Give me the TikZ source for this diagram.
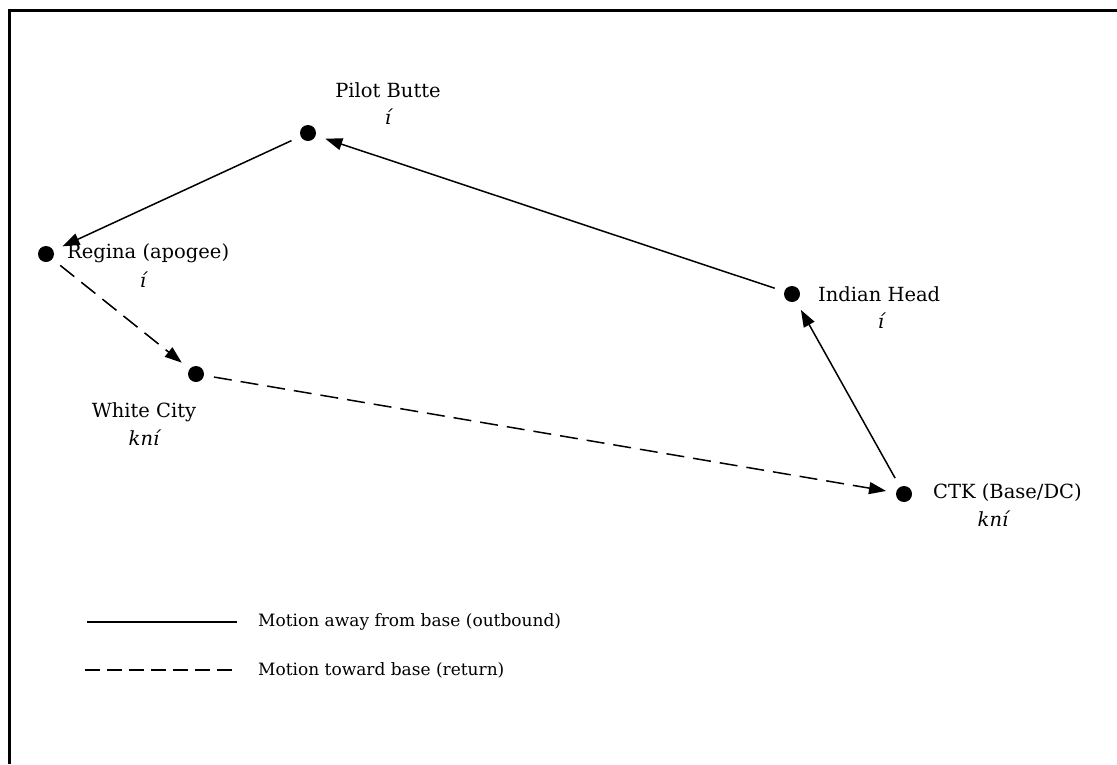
\documentclass[tikz,border=0pt]{standalone}
\usepackage{fontspec}
\setmainfont{DejaVu Serif}
\usetikzlibrary{arrows.meta}
\begin{document}
\begin{tikzpicture}[x=1pt,y=-1pt,
  stop/.style={circle,fill=black,inner sep=0pt,minimum size=16pt},
  lbl/.style={inner sep=0pt,font=\fontsize{19.5}{22}\selectfont},
  sub/.style={inner sep=0pt,font=\fontsize{19.5}{22}\selectfont\itshape},
  keytext/.style={inner sep=0pt,font=\fontsize{17}{20}\selectfont},
  route/.style={line width=1.5pt,-{Triangle[length=17pt,width=12pt]},shorten <=10pt,shorten >=10pt},
  outbound/.style={route},
  inbound/.style={route,dash pattern=on 18pt off 9pt},
  legendline/.style={line width=1.5pt}]
\useasboundingbox (0,0) rectangle (1117,764);
% frame (top and left edges)
\draw[line width=3pt] (9.5,764) -- (9.5,10.5) -- (1117,10.5);

% stops
\node[stop] (pb) at (308,133) {};
\node[stop] (rg) at (46,254) {};
\node[stop] (wc) at (196,374) {};
\node[stop] (ih) at (792,294) {};
\node[stop] (ctk) at (904,494) {};

% names and codes
\node[lbl] (pbn) at (388,90) {Pilot Butte};
\node[sub] (pbc) at (388,117) {í};
\node[lbl,anchor=west] (rgn) at (67,253) {Regina (apogee)};
\node[sub] (rgc) at (143,280) {í};
\node[lbl] (wcn) at (144,412) {White City};
\node[sub] (wcc) at (144,438) {kní};
\node[lbl,anchor=west] (ihn) at (818,294) {Indian Head};
\node[sub] (ihc) at (881,321) {í};
\node[lbl,anchor=west] (ctkn) at (933,493) {CTK (Base/DC)};
\node[sub] (ctkc) at (993,519) {kní};

% route
\draw[outbound] (ctk) -- (ih);
\draw[outbound] (ih) -- (pb);
\draw[outbound] (pb) -- (rg);
\draw[inbound] (rg) -- (wc);
\draw[inbound] (wc) -- (ctk);

% legend
\coordinate (l1a) at (87,622);
\coordinate (l1b) at (237,622);
\coordinate (l2a) at (85,670);
\coordinate (l2b) at (237,670);
\draw[legendline] (l1a) -- (l1b);
\draw[legendline,dash pattern=on 15pt off 7pt] (l2a) -- (l2b);
\node[keytext,anchor=west] (l1t) at (258,622) {Motion away from base (outbound)};
\node[keytext,anchor=west] (l2t) at (258,670) {Motion toward base (return)};
\end{tikzpicture}
\end{document}
